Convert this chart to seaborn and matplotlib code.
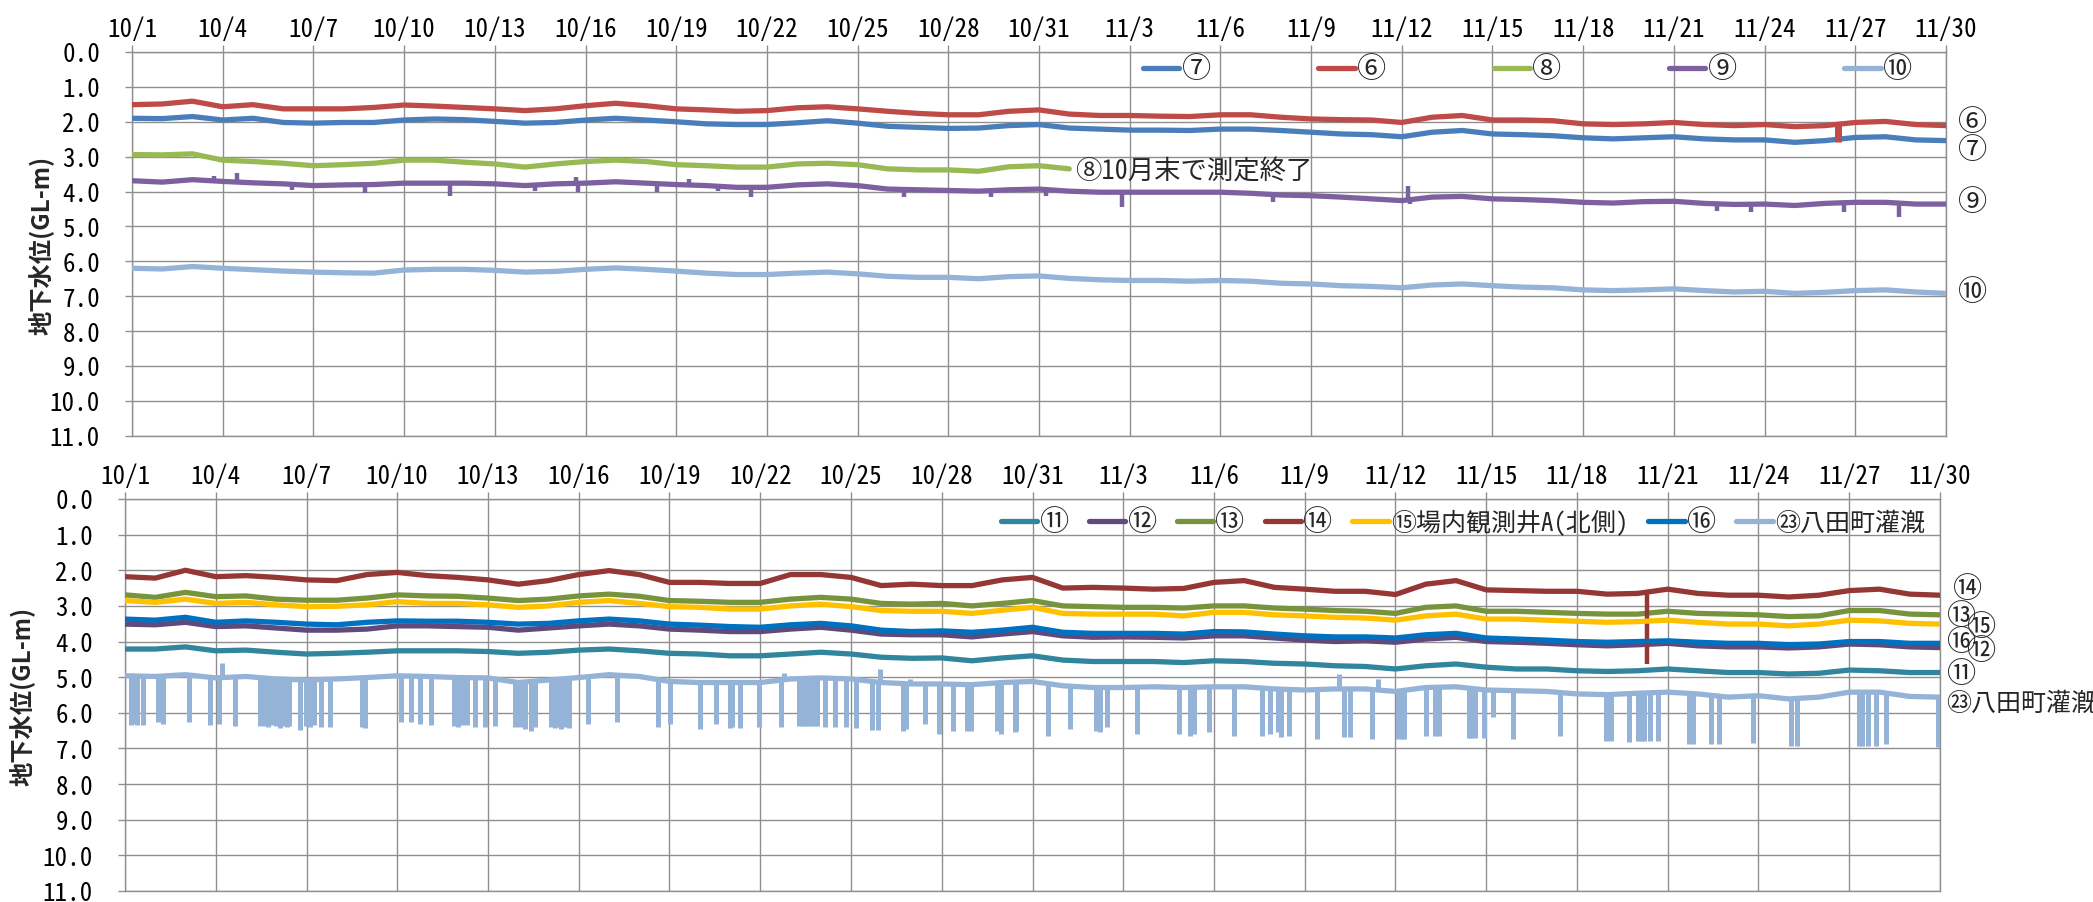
import numpy as np
import matplotlib
matplotlib.use("Agg")
import matplotlib.pyplot as plt
from matplotlib.lines import Line2D
import seaborn as sns

# ---------------------------------------------------------------- data
# x = days elapsed since 10/1 00:00, one reading per day (10/1 .. 11/30)
DAYS = np.arange(61)

X_TICK_POS = np.arange(0, 61, 3)
X_TICK_LABELS = ["10/1", "10/4", "10/7", "10/10", "10/13", "10/16", "10/19",
                 "10/22", "10/25", "10/28", "10/31", "11/3", "11/6", "11/9",
                 "11/12", "11/15", "11/18", "11/21", "11/24", "11/27", "11/30"]
Y_TICK_POS = np.arange(0, 12)
Y_TICK_LABELS = ["0.0", "1.0", "2.0", "3.0", "4.0", "5.0", "6.0",
                 "7.0", "8.0", "9.0", "10.0", "11.0"]

# upper panel: groundwater level (GL-m)
W07 = [1.90, 1.91, 1.85, 1.95, 1.90, 2.02, 2.04, 2.02, 2.02, 1.95, 1.92, 1.94, 1.99, 2.04, 2.02, 1.95, 1.90, 1.95, 2.00, 2.06, 2.08,
       2.08, 2.03, 1.97, 2.04, 2.13, 2.16, 2.19, 2.18, 2.11, 2.08, 2.18, 2.21, 2.24, 2.24, 2.25, 2.21, 2.21, 2.25, 2.30, 2.35,
       2.37, 2.43, 2.30, 2.25, 2.35, 2.37, 2.40, 2.46, 2.49, 2.46, 2.43, 2.49, 2.52, 2.52, 2.59, 2.54, 2.45, 2.43, 2.52, 2.54]
W06 = [1.51, 1.49, 1.41, 1.57, 1.51, 1.63, 1.63, 1.63, 1.59, 1.52, 1.55, 1.59, 1.63, 1.68, 1.63, 1.54, 1.47, 1.54, 1.63, 1.66, 1.70,
       1.68, 1.60, 1.57, 1.63, 1.70, 1.76, 1.80, 1.80, 1.70, 1.66, 1.78, 1.82, 1.82, 1.84, 1.85, 1.80, 1.80, 1.87, 1.92, 1.94,
       1.95, 2.02, 1.87, 1.82, 1.95, 1.95, 1.97, 2.06, 2.08, 2.06, 2.02, 2.08, 2.11, 2.08, 2.14, 2.11, 2.02, 1.99, 2.08, 2.11]
W08 = [2.94, 2.95, 2.92, 3.10, 3.14, 3.19, 3.26, 3.23, 3.19, 3.10, 3.10, 3.16, 3.21, 3.30, 3.21, 3.14, 3.10, 3.14, 3.23, 3.26, 3.30,
       3.30, 3.21, 3.19, 3.23, 3.35, 3.38, 3.38, 3.42, 3.29, 3.26, 3.35]
W09 = [3.69, 3.73, 3.66, 3.71, 3.75, 3.78, 3.83, 3.81, 3.80, 3.76, 3.76, 3.76, 3.78, 3.83, 3.78, 3.76, 3.72, 3.76, 3.80, 3.83, 3.88,
       3.88, 3.81, 3.78, 3.83, 3.93, 3.95, 3.97, 3.99, 3.95, 3.93, 3.99, 4.02, 4.02, 4.02, 4.02, 4.02, 4.05, 4.10, 4.12, 4.16,
       4.21, 4.26, 4.16, 4.14, 4.21, 4.23, 4.26, 4.31, 4.33, 4.29, 4.28, 4.34, 4.37, 4.36, 4.40, 4.34, 4.31, 4.31, 4.36, 4.36]
W10 = [6.20, 6.22, 6.15, 6.20, 6.24, 6.28, 6.31, 6.33, 6.34, 6.25, 6.23, 6.23, 6.26, 6.31, 6.29, 6.23, 6.19, 6.23, 6.28, 6.34, 6.38,
       6.38, 6.34, 6.31, 6.36, 6.43, 6.46, 6.46, 6.50, 6.44, 6.42, 6.49, 6.53, 6.55, 6.55, 6.57, 6.55, 6.57, 6.63, 6.65, 6.70,
       6.72, 6.76, 6.68, 6.65, 6.70, 6.74, 6.76, 6.82, 6.84, 6.82, 6.79, 6.84, 6.88, 6.86, 6.92, 6.89, 6.84, 6.82, 6.88, 6.92]

# short excursions (day, level)
W06_EVENT_DAY = [56.44]
W06_EVENT_GL = [2.59]
W09_EVENT_DAY = [2.72, 3.47, 5.29, 7.70, 10.51, 13.32, 14.70, 14.75, 17.36, 18.41, 19.39,
                 20.48, 25.55, 28.42, 30.22, 32.74, 37.73, 42.22, 42.26, 52.42, 53.55, 56.64, 58.43]
W09_EVENT_GL = [3.56, 3.48, 3.95, 4.05, 4.12, 3.99, 3.57, 4.02, 4.02, 3.64, 3.99,
                4.16, 4.16, 4.16, 4.14, 4.45, 4.31, 3.83, 4.36, 4.55, 4.58, 4.60, 4.74]

# lower panel: groundwater level (GL-m)
W11 = [4.21, 4.21, 4.15, 4.26, 4.24, 4.30, 4.35, 4.33, 4.30, 4.26, 4.26, 4.26, 4.28, 4.33, 4.30, 4.24, 4.21, 4.26, 4.33, 4.35, 4.40,
       4.40, 4.35, 4.30, 4.35, 4.44, 4.47, 4.46, 4.54, 4.46, 4.40, 4.52, 4.56, 4.56, 4.56, 4.59, 4.54, 4.56, 4.61, 4.63, 4.68,
       4.70, 4.77, 4.68, 4.63, 4.72, 4.77, 4.77, 4.82, 4.84, 4.82, 4.77, 4.82, 4.87, 4.87, 4.91, 4.89, 4.80, 4.82, 4.87, 4.87]
W12 = [3.51, 3.53, 3.46, 3.58, 3.56, 3.62, 3.68, 3.68, 3.65, 3.56, 3.56, 3.58, 3.60, 3.68, 3.62, 3.56, 3.51, 3.56, 3.65, 3.68, 3.72,
       3.72, 3.65, 3.60, 3.68, 3.79, 3.81, 3.81, 3.87, 3.79, 3.72, 3.84, 3.88, 3.87, 3.88, 3.90, 3.84, 3.84, 3.90, 3.96, 4.00,
       3.98, 4.02, 3.93, 3.88, 4.00, 4.02, 4.05, 4.09, 4.12, 4.09, 4.05, 4.12, 4.15, 4.15, 4.18, 4.15, 4.07, 4.09, 4.15, 4.17]
W13 = [2.69, 2.76, 2.62, 2.74, 2.72, 2.81, 2.84, 2.84, 2.78, 2.69, 2.72, 2.73, 2.78, 2.85, 2.81, 2.72, 2.67, 2.73, 2.85, 2.87, 2.90,
       2.90, 2.81, 2.76, 2.81, 2.93, 2.95, 2.93, 3.00, 2.93, 2.85, 3.00, 3.02, 3.04, 3.04, 3.06, 3.00, 3.00, 3.06, 3.09, 3.13,
       3.15, 3.21, 3.04, 3.00, 3.15, 3.15, 3.18, 3.21, 3.23, 3.23, 3.15, 3.21, 3.23, 3.25, 3.30, 3.28, 3.13, 3.13, 3.23, 3.25]
W14 = [2.18, 2.22, 2.00, 2.18, 2.15, 2.20, 2.27, 2.29, 2.12, 2.06, 2.15, 2.20, 2.27, 2.39, 2.29, 2.12, 2.01, 2.12, 2.34, 2.34, 2.37,
       2.37, 2.12, 2.12, 2.20, 2.43, 2.39, 2.43, 2.43, 2.27, 2.20, 2.50, 2.48, 2.50, 2.53, 2.51, 2.34, 2.29, 2.48, 2.53, 2.59,
       2.59, 2.68, 2.39, 2.29, 2.55, 2.57, 2.59, 2.59, 2.67, 2.65, 2.53, 2.65, 2.70, 2.70, 2.75, 2.70, 2.57, 2.53, 2.67, 2.70]
W15 = [2.85, 2.90, 2.81, 2.93, 2.90, 2.97, 3.02, 3.01, 2.97, 2.88, 2.93, 2.93, 2.97, 3.04, 3.00, 2.90, 2.85, 2.93, 3.02, 3.04, 3.09,
       3.09, 3.00, 2.95, 3.02, 3.13, 3.15, 3.15, 3.21, 3.12, 3.04, 3.21, 3.23, 3.23, 3.23, 3.28, 3.18, 3.18, 3.25, 3.28, 3.32,
       3.34, 3.40, 3.28, 3.23, 3.37, 3.37, 3.40, 3.43, 3.46, 3.44, 3.40, 3.46, 3.51, 3.51, 3.56, 3.51, 3.40, 3.42, 3.49, 3.51]
W16 = [3.37, 3.40, 3.32, 3.46, 3.42, 3.46, 3.51, 3.53, 3.46, 3.42, 3.43, 3.43, 3.46, 3.51, 3.49, 3.42, 3.37, 3.42, 3.51, 3.54, 3.58,
       3.60, 3.53, 3.49, 3.56, 3.68, 3.72, 3.70, 3.74, 3.68, 3.60, 3.74, 3.77, 3.77, 3.77, 3.79, 3.72, 3.73, 3.79, 3.84, 3.87,
       3.87, 3.90, 3.81, 3.77, 3.90, 3.93, 3.96, 4.00, 4.02, 4.00, 3.98, 4.02, 4.05, 4.05, 4.09, 4.07, 4.00, 4.00, 4.05, 4.05]
W23 = [4.96, 4.98, 4.93, 5.02, 4.98, 5.05, 5.08, 5.05, 5.01, 4.96, 4.98, 5.01, 5.02, 5.15, 5.08, 5.01, 4.93, 4.98, 5.12, 5.15, 5.15,
       5.15, 5.05, 5.02, 5.05, 5.15, 5.19, 5.19, 5.21, 5.15, 5.12, 5.24, 5.29, 5.29, 5.27, 5.29, 5.27, 5.27, 5.33, 5.36, 5.33,
       5.33, 5.40, 5.29, 5.27, 5.36, 5.38, 5.40, 5.47, 5.49, 5.45, 5.42, 5.47, 5.56, 5.52, 5.61, 5.56, 5.42, 5.42, 5.54, 5.56]

W14_EVENT_DAY = [50.32]
W14_EVENT_GL = [4.63]

# irrigation pumping drawdowns at well 23 (day, level)
W23_EVENT_DAY = [0.20, 0.30, 0.39, 0.59, 1.09, 1.25, 2.11, 2.80, 3.12, 3.20, 3.62, 4.47, 4.64, 4.74, 4.87, 5.00,
                 5.13, 5.26, 5.36, 5.43, 5.79, 5.99, 6.12, 6.25, 6.49, 6.78, 7.83, 7.93, 9.14, 9.47, 9.74,
                 10.13, 10.86, 11.01, 11.14, 11.32, 11.58, 11.91, 12.24, 12.89, 13.07, 13.22, 13.42, 13.55,
                 14.08, 14.21, 14.30, 14.41, 14.54, 14.67, 15.30, 16.28, 17.63, 18.03, 19.01, 19.54, 20.00,
                 20.06, 20.32, 20.97, 21.69, 21.78, 22.28, 22.39, 22.48, 22.57, 22.68, 22.78, 22.87, 23.13,
                 23.46, 23.82, 24.18, 24.70, 24.90, 24.96, 25.71, 25.81, 25.94, 26.46, 26.92, 27.38, 27.84,
                 27.97, 28.82, 28.97, 29.41, 29.47, 30.52, 31.24, 32.09, 32.22, 32.45, 33.46, 34.83, 35.22,
                 35.33, 35.85, 36.66, 37.58, 37.84, 38.10, 38.23, 38.49, 39.41,
                 40.13, 40.31, 40.48, 41.23, 41.43, 42.07, 42.20, 42.29, 43.02, 43.29, 43.45, 44.42, 44.51,
                 44.62, 44.91, 45.21, 45.88, 47.43, 48.97, 49.12, 49.72, 50.03, 50.12, 50.21, 50.42, 50.69,
                 51.71, 51.84, 52.44, 52.68, 53.83, 55.09, 55.27, 57.32, 57.41, 57.61, 57.90, 58.21, 59.93]
W23_EVENT_GL = [6.33, 6.30, 6.33, 6.35, 6.27, 6.30, 6.27, 6.33, 6.30, 4.59, 6.37, 6.37, 6.37, 6.40, 6.35, 6.37,
                6.42, 6.37, 6.40, 6.37, 6.48, 6.37, 6.40, 6.35, 6.40, 6.40, 6.40, 6.42, 6.27, 6.27, 6.30,
                6.33, 6.37, 6.40, 6.35, 6.33, 6.40, 6.40, 6.37, 6.40, 6.40, 6.45, 6.50, 6.40,
                6.40, 6.42, 6.40, 6.45, 6.40, 6.42, 6.30, 6.27, 6.40, 6.30, 6.45, 6.30, 6.42,
                6.41, 6.43, 6.41, 6.41, 4.87, 6.36, 6.36, 6.36, 6.36, 6.36, 6.36, 6.36, 6.41,
                6.41, 6.41, 6.43, 6.48, 6.48, 4.77, 6.50, 6.45, 5.05, 6.31, 6.59, 6.50, 6.50,
                6.52, 6.50, 6.59, 6.55, 6.50, 6.64, 6.45, 6.50, 6.55, 6.41, 6.59, 6.59, 6.64,
                6.59, 6.55, 6.64, 6.64, 6.59, 6.55, 6.67, 6.64, 6.74,
                4.92, 6.69, 6.69, 6.74, 5.04, 6.74, 6.74, 6.74, 6.64, 6.64, 6.64, 6.71, 6.71,
                6.71, 6.71, 6.13, 6.74, 6.64, 6.78, 6.78, 6.82, 6.78, 6.78, 6.78, 6.78, 6.78,
                6.88, 6.88, 6.88, 6.88, 6.86, 6.92, 6.92, 6.92, 6.92, 6.92, 6.92, 6.88, 6.95]

TOP_NAMES = ["⑦", "⑥", "⑧", "⑨", "⑩"]
BOTTOM_NAMES = ["⑪", "⑫", "⑬", "⑭", "⑮場内観測井A(北側)", "⑯", "㉓八田町灌漑"]

# ---------------------------------------------------------------- style
sns.set_style("white")
plt.rcParams["font.family"] = ["Noto Sans CJK JP", "DejaVu Sans"]
MONO = ["Noto Sans Mono CJK JP", "Noto Sans CJK JP", "DejaVu Sans"]

GRID = "#8f8f8f"
LW = 3.8
TICK_FS = 18
LEG_FS = 18
NUM_FS = 21      # labels made of a single circled number

TOP_COLORS = {"⑦": "#4A7EBB", "⑥": "#BE4B48", "⑧": "#98B954", "⑨": "#7D60A0", "⑩": "#95B3D7"}
BOTTOM_COLORS = {"⑪": "#31859C", "⑫": "#604A7B", "⑬": "#77933C", "⑭": "#953735",
                 "⑮場内観測井A(北側)": "#FFC000", "⑯": "#0070C0", "㉓八田町灌漑": "#95B3D7"}

W, H = 2093, 903
fig = plt.figure(figsize=(W / 100, H / 100), dpi=100)
ax_top = fig.add_axes([132 / W, 1 - 436.7 / H, 1814 / W, 383.7 / H])
ax_bot = fig.add_axes([125 / W, 1 - 892 / H, 1815 / W, 392 / H])


def draw_well(ax, days, values, color, z, ev_days=None, ev_vals=None, ev_lw=LW):
    sns.lineplot(x=days, y=values, color=color, lw=LW, ax=ax, zorder=z)
    if ev_days is not None:
        base = np.interp(ev_days, days, values)
        ax.vlines(ev_days, base, ev_vals, colors=color, lw=ev_lw, zorder=z)


# upper panel
draw_well(ax_top, DAYS, W07, TOP_COLORS["⑦"], 3.0)
draw_well(ax_top, DAYS, W06, TOP_COLORS["⑥"], 3.1, W06_EVENT_DAY, W06_EVENT_GL, ev_lw=5)
draw_well(ax_top, DAYS[:len(W08)], W08, TOP_COLORS["⑧"], 3.2)
draw_well(ax_top, DAYS, W09, TOP_COLORS["⑨"], 3.3, W09_EVENT_DAY, W09_EVENT_GL, ev_lw=3.2)
draw_well(ax_top, DAYS, W10, TOP_COLORS["⑩"], 3.4)

# lower panel
draw_well(ax_bot, DAYS, W11, BOTTOM_COLORS["⑪"], 3.0)
draw_well(ax_bot, DAYS, W12, BOTTOM_COLORS["⑫"], 3.1)
draw_well(ax_bot, DAYS, W13, BOTTOM_COLORS["⑬"], 3.2)
draw_well(ax_bot, DAYS, W14, BOTTOM_COLORS["⑭"], 3.3, W14_EVENT_DAY, W14_EVENT_GL, ev_lw=3.2)
draw_well(ax_bot, DAYS, W15, BOTTOM_COLORS["⑮場内観測井A(北側)"], 3.4)
draw_well(ax_bot, DAYS, W16, BOTTOM_COLORS["⑯"], 3.5)
draw_well(ax_bot, DAYS, W23, BOTTOM_COLORS["㉓八田町灌漑"], 3.6, W23_EVENT_DAY, W23_EVENT_GL, ev_lw=3.6)

for ax in (ax_top, ax_bot):
    ax.set_xlim(0, 60)
    ax.set_ylim(11, 0)
    ax.set_xticks(X_TICK_POS)
    ax.set_xticklabels(X_TICK_LABELS, family=MONO)
    ax.set_yticks(Y_TICK_POS)
    ax.set_yticklabels(Y_TICK_LABELS, family=MONO)
    ax.xaxis.tick_top()
    ax.tick_params(axis="x", top=True, bottom=False, labeltop=True, labelbottom=False,
                   direction="out", length=5, width=1.0, color=GRID, pad=3,
                   labelsize=TICK_FS, labelcolor="black")
    ax.tick_params(axis="y", left=True, direction="out", length=5, width=1.0, color=GRID,
                   pad=18, labelsize=TICK_FS, labelcolor="black")
    ax.grid(True, color=GRID, lw=1.0)
    ax.set_axisbelow(True)
    for sp in ax.spines.values():
        sp.set_color(GRID)
        sp.set_linewidth(1.0)
    ax.set_xlabel("")
    ax.set_ylabel("")

# y-axis titles
fig.text(41 / W, 1 - 245 / H, "地下水位(GL-m)", rotation=90, ha="center", va="center",
         fontsize=17.5, fontweight="bold")
fig.text(22 / W, 1 - 696 / H, "地下水位(GL-m)", rotation=90, ha="center", va="center",
         fontsize=17.5, fontweight="bold")

# legends
leg_kw = dict(frameon=False, handlelength=1.45, handletextpad=0.1, borderpad=0, borderaxespad=0,
              prop={"family": MONO, "size": LEG_FS})
top_handles = [Line2D([], [], color=TOP_COLORS[n], lw=LW) for n in TOP_NAMES]
leg_top = ax_top.legend(top_handles, TOP_NAMES, ncol=5, loc="center left",
                        bbox_to_anchor=(0.5573, 0.956), columnspacing=4.3, **leg_kw)
bot_handles = [Line2D([], [], color=BOTTOM_COLORS[n], lw=LW) for n in BOTTOM_NAMES]
leg_bot = ax_bot.legend(bot_handles, BOTTOM_NAMES, ncol=7, loc="center left",
                        bbox_to_anchor=(0.4826, 0.941), columnspacing=0.8, **leg_kw)
for leg in (leg_top, leg_bot):
    for t in leg.get_texts():
        if len(t.get_text()) == 1:
            t.set_fontsize(NUM_FS)

# series names at the right edge
for name, x, y in [("⑥", 60.4, 2.0), ("⑦", 60.4, 2.82), ("⑨", 60.4, 4.29), ("⑩", 60.4, 6.87)]:
    ax_top.text(x, y, name, ha="left", va="center", fontsize=NUM_FS, family=MONO, clip_on=False)
for name, x, y in [("⑭", 60.43, 2.53), ("⑬", 60.22, 3.27), ("⑮", 60.88, 3.60), ("⑯", 60.22, 4.02),
                   ("⑫", 60.88, 4.26), ("⑪", 60.22, 4.91)]:
    ax_bot.text(x, y, name, ha="left", va="center", fontsize=NUM_FS, family=MONO, clip_on=False)
ax_bot.text(60.22, 5.73, "㉓八田町灌漑", ha="left", va="center", fontsize=LEG_FS, family=MONO,
            clip_on=False)

ax_top.text(31.19, 3.40, "⑧10月末で測定終了", ha="left", va="center", fontsize=19, family=MONO)

fig.savefig("out.png", dpi=100, facecolor="white")
